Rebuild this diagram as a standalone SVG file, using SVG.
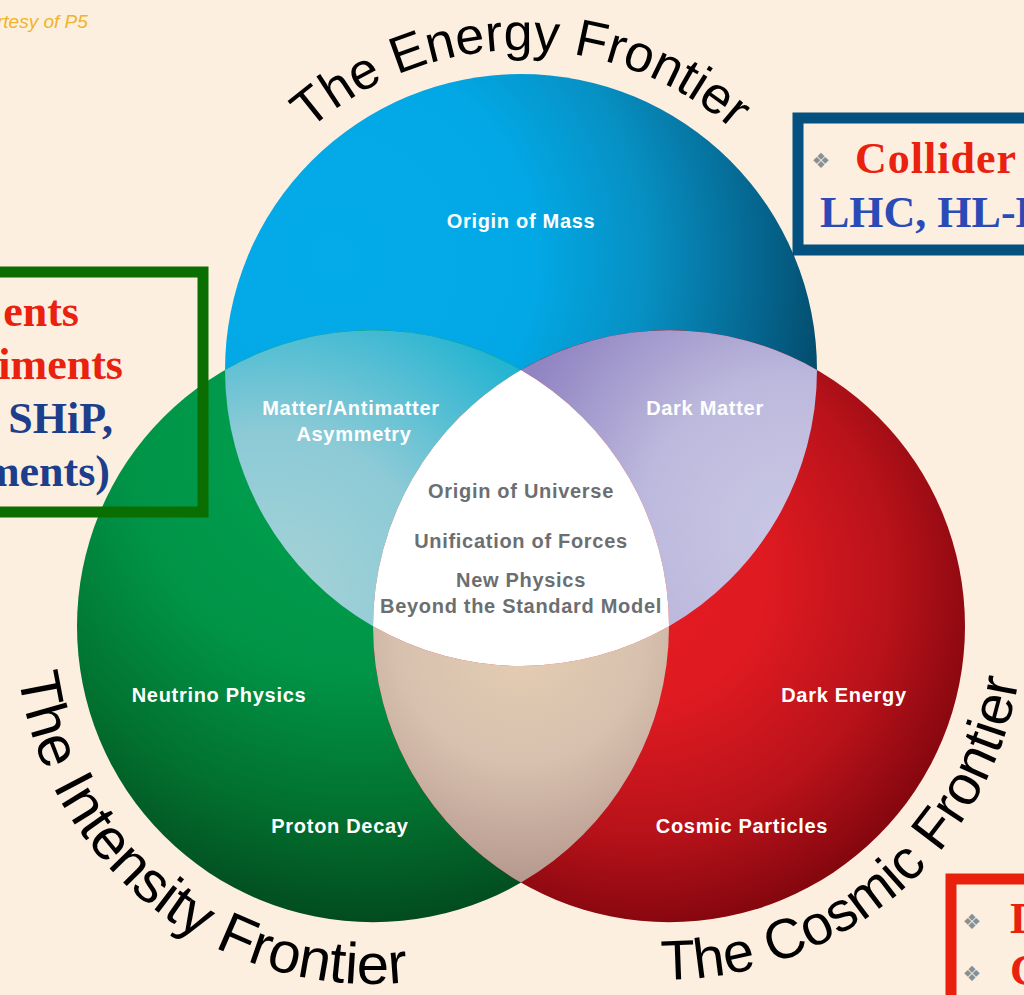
<svg xmlns="http://www.w3.org/2000/svg" width="1024" height="995" viewBox="0 0 1024 995">
  <style>
    .lbl { font-family: "Liberation Sans", Arial, sans-serif; font-weight: bold; font-size: 20px; fill: #ffffff; text-anchor: middle; letter-spacing: 0.7px; }
    .core { fill: #6b6f71; }
    .arc { font-family: "Liberation Sans", Arial, sans-serif; fill: #000000; }
    .serif { font-family: "Liberation Serif", "Times New Roman", serif; font-weight: bold; font-size: 44px; }
    .red { fill: #e8220e; }
    .navy { fill: #1d3e8a; }
    .royal { fill: #2a4bb6; }
    .bullet { font-family: "DejaVu Sans", sans-serif; font-size: 21px; fill: #8e8e8e; text-anchor: middle; }
    .frame { fill: none; stroke-width: 11; }
  </style>
  <defs>
    <radialGradient id="gBlue" gradientUnits="userSpaceOnUse" cx="335" cy="257" r="500">
      <stop offset="0" stop-color="#04abe9"/>
      <stop offset="0.4" stop-color="#02a8e5"/>
      <stop offset="0.62" stop-color="#0790c3"/>
      <stop offset="0.85" stop-color="#05668f"/>
      <stop offset="1" stop-color="#034a6a"/>
    </radialGradient>
    <radialGradient id="gGreen" gradientUnits="userSpaceOnUse" cx="360" cy="440" r="520">
      <stop offset="0" stop-color="#00a352"/>
      <stop offset="0.45" stop-color="#009447"/>
      <stop offset="0.72" stop-color="#02702f"/>
      <stop offset="1" stop-color="#023f18"/>
    </radialGradient>
    <radialGradient id="gRed" gradientUnits="userSpaceOnUse" cx="640" cy="580" r="420">
      <stop offset="0" stop-color="#e51b23"/>
      <stop offset="0.3" stop-color="#df1a21"/>
      <stop offset="0.6" stop-color="#b8121a"/>
      <stop offset="0.8" stop-color="#8c0810"/>
      <stop offset="1" stop-color="#5c0000"/>
    </radialGradient>
    <radialGradient id="gBG" gradientUnits="userSpaceOnUse" cx="270" cy="600" r="340">
      <stop offset="0" stop-color="#a8d3d6"/>
      <stop offset="0.5" stop-color="#8ccad6"/>
      <stop offset="1" stop-color="#1fb3d1"/>
    </radialGradient>
    <radialGradient id="gBR" gradientUnits="userSpaceOnUse" cx="790" cy="530" r="300">
      <stop offset="0" stop-color="#c9c7e4"/>
      <stop offset="0.5" stop-color="#bdb9dd"/>
      <stop offset="1" stop-color="#9084c2"/>
    </radialGradient>
    <radialGradient id="gGR" gradientUnits="userSpaceOnUse" cx="521" cy="640" r="250">
      <stop offset="0" stop-color="#e5ceb2"/>
      <stop offset="0.5" stop-color="#d7c0ae"/>
      <stop offset="1" stop-color="#b4968c"/>
    </radialGradient>
    <!-- baselines for the curved frontier titles -->
    <path id="arcEnergy" d="M 201,370 A 320,320 0 0,1 841,370"/>
    <path id="arcIntensity" d="M 98.8,395.8 A 358,358 0 0,0 647.2,856.2"/>
    <path id="arcCosmic" d="M 394.8,856.1 A 358,358 0 0,0 943.2,395.9"/>
  </defs>

  <rect width="1024" height="995" fill="#fdefe0"/>

  <text x="-3" y="28" font-family="Liberation Sans, Arial, sans-serif" font-style="italic" font-size="19" fill="#eeb42a">rtesy of P5</text>

  <!-- three frontier circles -->
  <g id="energy-circle"><circle cx="521" cy="370" r="296" fill="url(#gBlue)"/></g>
  <g id="intensity-circle"><circle cx="373" cy="626.3" r="296" fill="url(#gGreen)"/></g>
  <g id="cosmic-circle"><circle cx="669" cy="626.3" r="296" fill="url(#gRed)"/></g>

  <!-- pairwise overlaps -->
  <g id="energy-intensity"><path d="M 225,370 A 296,296 0 0,1 521,370 A 296,296 0 0,0 373,626.3 A 296,296 0 0,1 225,370 Z" fill="url(#gBG)"/></g>
  <g id="energy-cosmic"><path d="M 521,370 A 296,296 0 0,1 817,370 A 296,296 0 0,1 669,626.3 A 296,296 0 0,0 521,370 Z" fill="url(#gBR)"/></g>
  <g id="intensity-cosmic"><path d="M 373,626.3 A 296,296 0 0,0 669,626.3 A 296,296 0 0,1 521,882.6 A 296,296 0 0,1 373,626.3 Z" fill="url(#gGR)"/></g>
  <!-- common core -->
  <g id="core"><path d="M 521,370 A 296,296 0 0,0 373,626.3 A 296,296 0 0,0 669,626.3 A 296,296 0 0,0 521,370 Z" fill="#ffffff"/></g>

  <!-- region labels -->
  <g id="labels">
    <text class="lbl" x="521" y="228">Origin of Mass</text>
    <text class="lbl" x="351" y="415">Matter/Antimatter</text>
    <text class="lbl" x="354" y="441">Asymmetry</text>
    <text class="lbl" x="705" y="415">Dark Matter</text>
    <text class="lbl" x="219" y="702">Neutrino Physics</text>
    <text class="lbl" x="844" y="702">Dark Energy</text>
    <text class="lbl" x="340" y="833">Proton Decay</text>
    <text class="lbl" x="742" y="833">Cosmic Particles</text>
    <text class="lbl core" x="521" y="498">Origin of Universe</text>
    <text class="lbl core" x="521" y="548">Unification of Forces</text>
    <text class="lbl core" x="521" y="587">New Physics</text>
    <text class="lbl core" x="521" y="613">Beyond the Standard Model</text>
  </g>

  <!-- curved titles -->
  <g id="titles">
    <text class="arc" font-size="52"><textPath href="#arcEnergy" startOffset="50%" text-anchor="middle">The Energy Frontier</textPath></text>
    <text class="arc" font-size="58"><textPath href="#arcIntensity" startOffset="51%" text-anchor="middle">The Intensity Frontier</textPath></text>
    <text class="arc" font-size="56"><textPath href="#arcCosmic" startOffset="50%" text-anchor="middle">The Cosmic Frontier</textPath></text>
  </g>

  <!-- experiment boxes -->
  <g id="box-energy">
    <rect class="frame" x="798" y="118" width="300" height="132" stroke="#04507f"/>
    <text class="bullet" x="821" y="168">❖</text>
    <text class="serif red" x="855" y="173" letter-spacing="1">Collider</text>
    <text class="serif royal" x="820" y="227">LHC, HL-LHC</text>
  </g>
  <g id="box-intensity">
    <rect class="frame" x="-60" y="272" width="263" height="240" stroke="#0a6e00" stroke-width="10"/>
    <text class="serif red" x="79" y="326" text-anchor="end">ents</text>
    <text class="serif red" x="123" y="379" text-anchor="end">iments</text>
    <text class="serif navy" x="113" y="433" text-anchor="end">SHiP,</text>
    <text class="serif navy" x="110" y="486" text-anchor="end">ments)</text>
  </g>
  <g id="box-cosmic">
    <rect class="frame" x="951" y="879" width="200" height="200" stroke="#e8200c"/>
    <text class="bullet" x="972" y="929">❖</text>
    <text class="bullet" x="972" y="981">❖</text>
    <text class="serif red" x="1010" y="933">D</text>
    <text class="serif red" x="1010" y="985">C</text>
  </g>
</svg>
